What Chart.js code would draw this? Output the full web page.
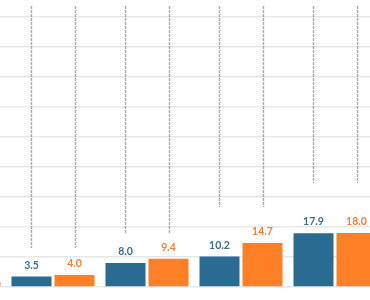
<!DOCTYPE html>
<html>
<head>
<meta charset="utf-8">
<script src="https://cdn.jsdelivr.net/npm/chart.js@4.4.1/dist/chart.umd.min.js"></script>
<style>
  html, body { margin: 0; padding: 0; background: #fff; }
  #frame { position: relative; width: 370px; height: 300px; overflow: hidden; }
  #wrap { position: absolute; left: -88px; top: -13px; width: 470px; height: 330px; }
</style>
</head>
<body>
<div id="frame"><div id="wrap"><canvas id="chart"></canvas></div></div>
<script>
  'use strict';

  // data (first group is mostly outside the frame)
  const categories = ['G0', 'G1', 'G2', 'G3', 'G4'];
  const seriesA = [1.5, 3.5, 8.0, 10.2, 17.9];
  const seriesB = [1.7, 4.0, 9.4, 14.7, 18.0];
  const leaderTop = 93.7;
  const leaderLow = [10.0, 13.0, 18.0, 26.7, 34.7];
  const yTicks = [0, 10, 20, 30, 40, 50, 60, 70, 80, 90, 100];

  const BLUE = '#2a6c91';
  const ORANGE = '#ff7f27';
  const LABEL_COLORS = ['#3f6f8c', '#ef8238'];

  // dashed leader lines above each bar
  const leaderLines = {
    id: 'leaderLines',
    beforeDatasetsDraw(chart) {
      const { ctx, scales: { y } } = chart;
      ctx.save();
      ctx.strokeStyle = 'rgba(150, 150, 150, 0.8)';
      ctx.lineWidth = 1.4;
      ctx.setLineDash([3, 1]);
      chart.data.datasets.forEach((ds, di) => {
        chart.getDatasetMeta(di).data.forEach((bar, i) => {
          const x = Math.round(bar.x) + 0.5;
          ctx.beginPath();
          ctx.moveTo(x, y.getPixelForValue(leaderTop));
          ctx.lineTo(x, y.getPixelForValue(leaderLow[i]));
          ctx.stroke();
        });
      });
      ctx.restore();
    }
  };

  // value labels on top of bars
  const valueLabels = {
    id: 'valueLabels',
    afterDatasetsDraw(chart) {
      const { ctx } = chart;
      ctx.save();
      ctx.font = "bold 10.5px 'Lato', sans-serif";
      ctx.textAlign = 'center';
      ctx.textBaseline = 'bottom';
      chart.data.datasets.forEach((ds, di) => {
        ctx.fillStyle = LABEL_COLORS[di];
        chart.getDatasetMeta(di).data.forEach((bar, i) => {
          ctx.fillText(ds.data[i].toFixed(1), bar.x, bar.y - 6);
        });
      });
      ctx.restore();
    }
  };

  new Chart(document.getElementById('chart'), {
    type: 'bar',
    data: {
      labels: categories,
      datasets: [
        { label: 'A', data: seriesA, backgroundColor: BLUE, barPercentage: 0.93, categoryPercentage: 0.915 },
        { label: 'B', data: seriesB, backgroundColor: ORANGE, barPercentage: 0.93, categoryPercentage: 0.915 }
      ]
    },
    options: {
      responsive: true,
      maintainAspectRatio: false,
      animation: false,
      layout: { padding: { left: 0, right: 0, top: 0, bottom: 30 } },
      plugins: { legend: { display: false }, tooltip: { enabled: false } },
      scales: {
        x: {
          display: false,
          grid: { display: false }
        },
        y: {
          min: 0,
          max: 100,
          display: true,
          border: { display: false },
          ticks: { display: false, stepSize: 10 },
          afterBuildTicks: (axis) => { axis.ticks = yTicks.map(v => ({ value: v })); },
          grid: { color: '#e8e8e8', lineWidth: 1.5, drawTicks: false }
        }
      }
    },
    plugins: [leaderLines, valueLabels]
  });
</script>
</body>
</html>
